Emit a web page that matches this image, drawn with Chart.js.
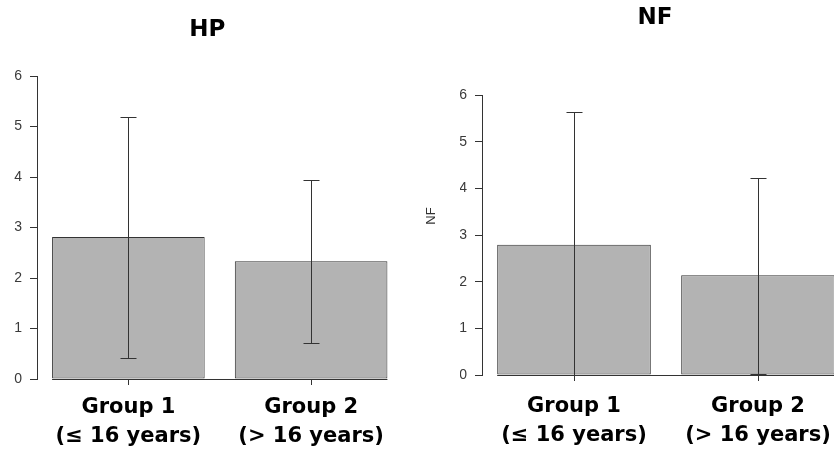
<!DOCTYPE html>
<html>
<head>
<meta charset="utf-8">
<script src="https://cdn.jsdelivr.net/npm/chart.js@4/dist/chart.umd.min.js"></script>
<style>
  body { margin: 0; background: #fff; width: 834px; height: 454px; overflow: hidden; position: relative; }
  canvas { position: absolute; top: 0; }
  #hpChart { left: 0; }
  #nfChart { left: 420px; }
</style>
</head>
<body>
<canvas id="hpChart" width="415" height="454"></canvas>
<canvas id="nfChart" width="470" height="454"></canvas>
<script>
// categories
var groups = [["Group 1", "(\u2264 16 years)"], ["Group 2", "(> 16 years)"]];
var yTicks = [0, 1, 2, 3, 4, 5, 6];

// HP: mean and error limits
var hpMeans = [2.81, 2.33];
var hpUpper = [5.19, 3.95];
var hpLower = [0.42, 0.71];

// NF: mean and error limits
var nfMeans = [2.79, 2.14];
var nfUpper = [5.63, 4.23];
var nfLower = [0.0, 0.03];

var ink = '#333333';
var boldFont = 'DejaVu Sans';

// draws error bars, the base line under the bars and the rotated y label
var errorBars = {
    id: 'errorBars',
    afterDatasetsDraw: function (chart, args, opts) {
        var ctx = chart.ctx;
        var x = chart.scales.x;
        var y = chart.scales.y;
        var meta = chart.getDatasetMeta(0);
        ctx.save();
        ctx.strokeStyle = ink;
        ctx.lineWidth = 1;
        // base line from first bar to last bar
        var first = meta.data[0], last = meta.data[meta.data.length - 1];
        var y0 = Math.round(y.getPixelForValue(0)) + 0.5;
        ctx.beginPath();
        ctx.moveTo(first.x - first.width / 2, y0);
        ctx.lineTo(last.x + last.width / 2, y0);
        ctx.stroke();
        for (var i = 0; i < opts.upper.length; i++) {
            var cx = Math.round(x.getPixelForValue(i)) + 0.5;
            var yt = Math.round(y.getPixelForValue(opts.upper[i])) + 0.5;
            var yb = Math.round(y.getPixelForValue(opts.lower[i])) + 0.5;
            ctx.beginPath();
            ctx.moveTo(cx, yt);
            ctx.lineTo(cx, yb);
            ctx.moveTo(cx - 8, yt);
            ctx.lineTo(cx + 8, yt);
            ctx.moveTo(cx - 8, yb);
            ctx.lineTo(cx + 8, yb);
            ctx.stroke();
        }
        if (opts.yLabel) {
            ctx.translate(11, 216);
            ctx.rotate(-Math.PI / 2);
            ctx.fillStyle = '#333';
            ctx.font = '13px "Liberation Sans"';
            ctx.textAlign = 'center';
            ctx.textBaseline = 'middle';
            ctx.fillText(opts.yLabel, 0, 0);
        }
        ctx.restore();
    }
};

function makeChart(id, name, means, upper, lower, lay) {
    return new Chart(document.getElementById(id), {
        type: 'bar',
        data: {
            labels: groups,
            datasets: [{
                data: means,
                backgroundColor: '#b3b3b3',
                borderColor: ink,
                borderWidth: 1,
                borderSkipped: false,
                barPercentage: 0.835,
                categoryPercentage: 1
            }]
        },
        options: {
            responsive: false,
            animation: false,
            layout: { padding: { left: lay.padLeft, right: lay.padRight, top: 0, bottom: 0 } },
            plugins: {
                legend: { display: false },
                tooltip: { enabled: false },
                title: {
                    display: true,
                    text: name,
                    color: '#000',
                    font: { family: boldFont, size: 23, weight: 'bold', lineHeight: 1.2 },
                    padding: { top: lay.titleTop, bottom: lay.titleBottom }
                },
                errorBars: { upper: upper, lower: lower, yLabel: lay.yLabel }
            },
            scales: {
                x: {
                    afterFit: function (s) { s.height = lay.xHeight; },
                    border: { display: false },
                    grid: { drawOnChartArea: false, offset: false, tickLength: 6, color: ink },
                    ticks: {
                        color: '#000',
                        padding: lay.xPad,
                        maxRotation: 0,
                        font: { family: boldFont, size: 21, weight: 'bold', lineHeight: '29px' }
                    }
                },
                y: {
                    min: 0,
                    max: 6,
                    afterFit: function (s) { s.width = lay.yWidth; },
                    afterBuildTicks: function (s) { s.ticks = yTicks.map(function (v) { return { value: v }; }); },
                    border: { display: true, color: ink },
                    grid: { drawOnChartArea: false, tickLength: 7, color: ink },
                    ticks: {
                        color: '#3a3a3a',
                        padding: 8,
                        font: { family: 'Liberation Sans', size: 14 }
                    }
                }
            }
        },
        plugins: [errorBars]
    });
}

makeChart('hpChart', 'HP', hpMeans, hpUpper, hpLower,
    { padLeft: 12, padRight: 12.5, titleTop: 16.2, titleBottom: 32.2, xHeight: 75, xPad: 8, yWidth: 25, yLabel: '' });
makeChart('nfChart', 'NF', nfMeans, nfUpper, nfLower,
    { padLeft: 40, padRight: 40, titleTop: 4.2, titleBottom: 63.2, xHeight: 79, xPad: 11, yWidth: 22, yLabel: 'NF' });
</script>
</body>
</html>
